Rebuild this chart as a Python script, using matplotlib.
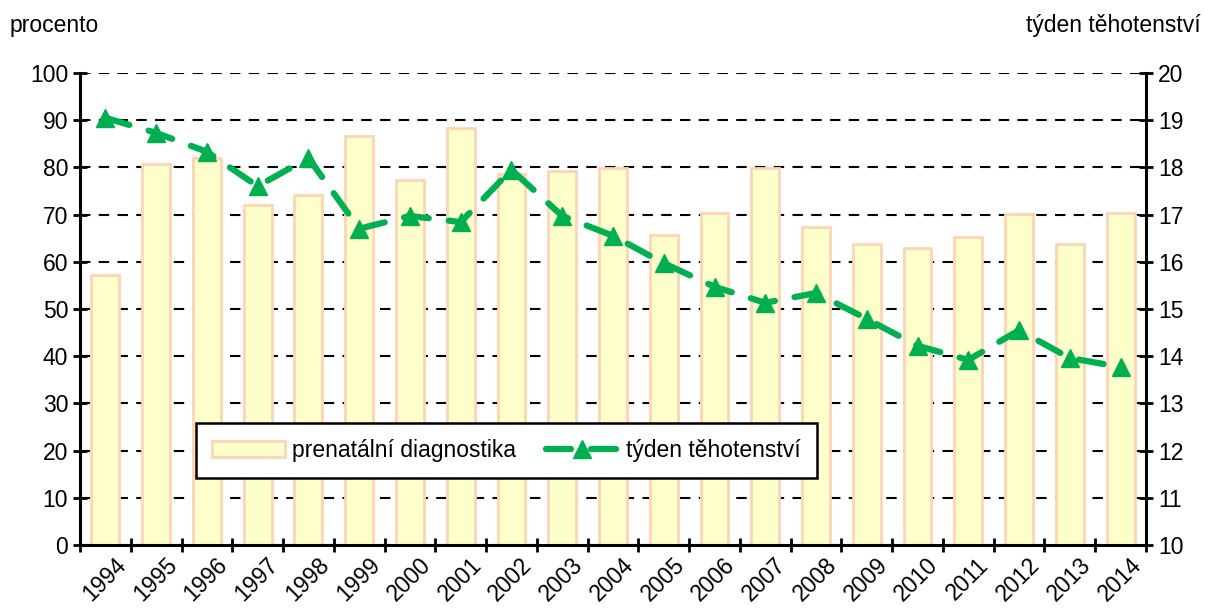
import matplotlib
matplotlib.use("Agg")
import matplotlib.pyplot as plt
import matplotlib.transforms as mtransforms
import numpy as np

plt.rcParams['font.family'] = ['Liberation Sans', 'DejaVu Sans']

roky = [str(r) for r in range(1994, 2015)]
# procento - prenatální diagnostika
diagnostika = [57.2, 80.7, 82.0, 72.0, 74.2, 86.7, 77.3, 88.3, 78.6, 79.2, 79.9,
               65.7, 70.3, 79.9, 67.4, 63.8, 62.9, 65.3, 70.1, 63.8, 70.3]
# týden těhotenství
tyden = [19.05, 18.73, 18.33, 17.6, 18.2, 16.7, 16.97, 16.84, 17.95, 16.97, 16.55,
         15.97, 15.47, 15.13, 15.34, 14.79, 14.22, 13.92, 14.55, 13.96, 13.77]

zelena = "#00B050"
fs = 16.5

fig = plt.figure(figsize=(12.05, 6.10), dpi=100)
ax = fig.add_axes([0.0664, 0.1066, 0.8846, 0.7738])
x = np.arange(len(roky))

ax.bar(x, diagnostika, width=0.55, color="#FFFFCC", edgecolor="#FDD5B4",
       linewidth=2, label="prenatální diagnostika")
ax.set_xlim(-0.5, len(roky) - 0.5)
ax.set_ylim(0, 100)
ax.set_yticks(range(0, 101, 10))
ax.set_axisbelow(True)
ax.yaxis.grid(True, color="black", linestyle=(0, (5, 4)), linewidth=1.5)

# hranice kategorií jako hlavní tiky, popisky na středech
ax.set_xticks(np.arange(-0.5, len(roky), 1))
ax.set_xticklabels([])
ax.set_xticks(x, minor=True)
ax.set_xticklabels(roky, minor=True, rotation=45, ha="right",
                   rotation_mode="anchor", fontsize=fs)
ax.tick_params(axis="x", which="minor", length=0, pad=6)
ax.tick_params(axis="x", which="major", direction="inout", length=10, width=2)
ax.tick_params(axis="y", direction="inout", length=10, width=2, labelsize=fs)
posun = mtransforms.ScaledTranslation(9 / 100, 0, fig.dpi_scale_trans)
for lab in ax.get_xticklabels(minor=True):
    lab.set_transform(lab.get_transform() + posun)

for s in ["top", "right"]:
    ax.spines[s].set_visible(False)
for s in ["left", "bottom"]:
    ax.spines[s].set_linewidth(2.2)

ax2 = ax.twinx()
ax2.plot(x, tyden, color=zelena, linewidth=4.5, linestyle=(0, (4, 3.2)),
         dash_capstyle="round", marker="^", markersize=13,
         label="týden těhotenství")
ax2.set_ylim(10, 20)
ax2.set_yticks(range(10, 21))
ax2.tick_params(axis="y", direction="inout", length=10, width=2, labelsize=fs)
for s in ["top", "left", "bottom"]:
    ax2.spines[s].set_visible(False)
ax2.spines["right"].set_linewidth(2.2)

fig.text(0.008, 0.958, "procento", fontsize=fs, va="center", ha="left")
fig.text(0.996, 0.958, "týden těhotenství", fontsize=fs, va="center", ha="right")

h1, l1 = ax.get_legend_handles_labels()
h2, l2 = ax2.get_legend_handles_labels()
leg = ax2.legend(h1 + h2, l1 + l2, loc="center", bbox_to_anchor=(0.42, 0.262),
                 bbox_transform=fig.transFigure, ncol=2, fontsize=fs,
                 fancybox=False, framealpha=1, edgecolor="black",
                 handlelength=3.2, handletextpad=0.3, columnspacing=1.3,
                 borderpad=0.7)
leg.get_frame().set_linewidth(1.8)

fig.savefig("out.png", dpi=100)
